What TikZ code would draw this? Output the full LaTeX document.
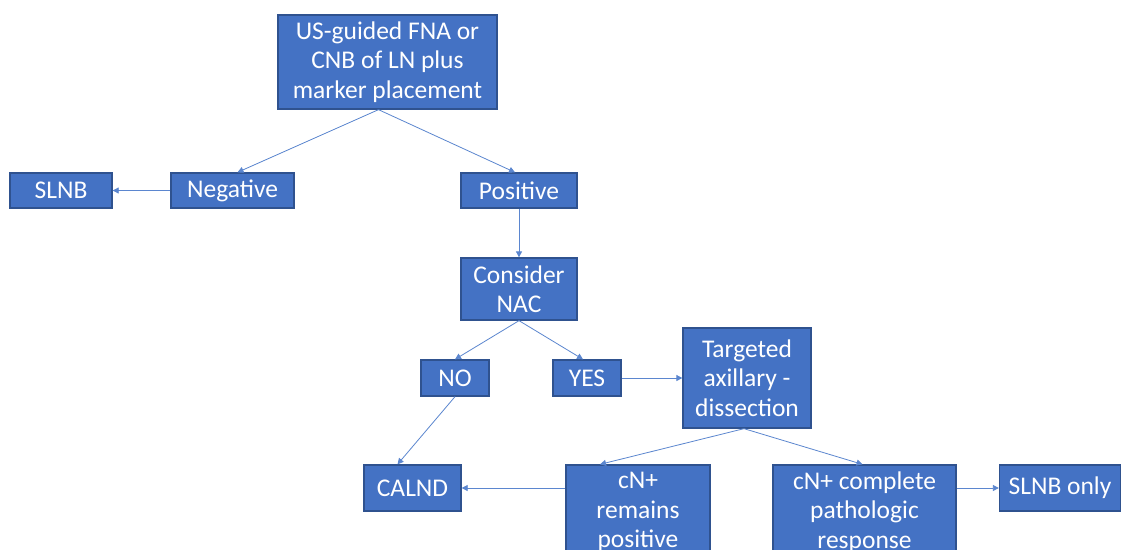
\documentclass[tikz,border=0pt]{standalone}
\usepackage{fontspec}
\setmainfont{Carlito}
\usetikzlibrary{arrows.meta}
\definecolor{boxblue}{HTML}{4472C4}
\definecolor{boxedge}{HTML}{2F528F}
\definecolor{linkblue}{HTML}{5B86CF}
\tikzset{
  box/.style={draw=boxedge, line width=1.3pt, fill=boxblue, text=white,
    align=center, inner sep=0pt, font=\fontsize{25.5}{29.5}\selectfont},
  link/.style={draw=linkblue, line width=0.8pt, -{Triangle[width=6pt,length=6pt]}}
}
\begin{document}
\begin{tikzpicture}[x=1pt,y=-1pt]
    \clip (0,0) rectangle (1123,549);
    \fill[white] (0,0) rectangle (1123,549);
    \node[box, minimum width=219pt, minimum height=94pt] (guided) at (387.5,62) {US-guided FNA or\\CNB of LN plus\\marker placement};
    \node[box, minimum width=102pt, minimum height=35pt] (slnb) at (61,190.5) {SLNB};
    \node[box, minimum width=123pt, minimum height=35pt] (neg) at (232.5,190.5) {Negative};
    \node[box, minimum width=116pt, minimum height=35pt] (pos) at (519,190.5) {Positive};
    \node[box, minimum width=116pt, minimum height=62pt] (nac) at (519,289) {Consider\\NAC};
    \node[box, minimum width=68pt, minimum height=36pt] (no) at (455,378) {NO};
    \node[box, minimum width=68pt, minimum height=36pt] (yes) at (587,378) {YES};
    \node[box, minimum width=128pt, minimum height=100pt] (tad) at (747,378) {Targeted\\axillary -\\dissection};
    \node[box, minimum width=97pt, minimum height=46pt] (calnd) at (412.5,488) {CALND};
    \node[box, minimum width=144pt, minimum height=94pt] (remains) at (638,512) {cN+\\remains\\positive};
    \node[box, minimum width=183pt, minimum height=94pt] (pcr) at (864.5,512) {cN+ complete\\pathologic\\response};
    \node[box, minimum width=121pt, minimum height=46pt] (slnbonly) at (1060,488) {SLNB only};

    \draw[link] ([xshift=-9pt]guided.south) -- ([xshift=5pt]neg.north);
    \draw[link] ([xshift=-9pt]guided.south) -- ([xshift=-4pt]pos.north);
    \draw[link] (neg) -- (slnb);
    \draw[link] (pos) -- (nac);
    \draw[link] (nac.south) -- (no.north);
    \draw[link] (nac.south) -- ([xshift=-4pt]yes.north);
    \draw[link] (yes) -- (tad);
    \draw[link] (no.south) -- ([xshift=-15pt]calnd.north);
    \draw[link] ([xshift=-3pt]tad.south) -- ([xshift=-38pt]remains.north);
    \draw[link] ([xshift=-3pt]tad.south) -- ([xshift=-2pt]pcr.north);
    \draw[link] (remains.west |- calnd.east) -- (calnd.east);
    \draw[link] (pcr.east |- slnbonly.west) -- (slnbonly.west);
\end{tikzpicture}
\end{document}
